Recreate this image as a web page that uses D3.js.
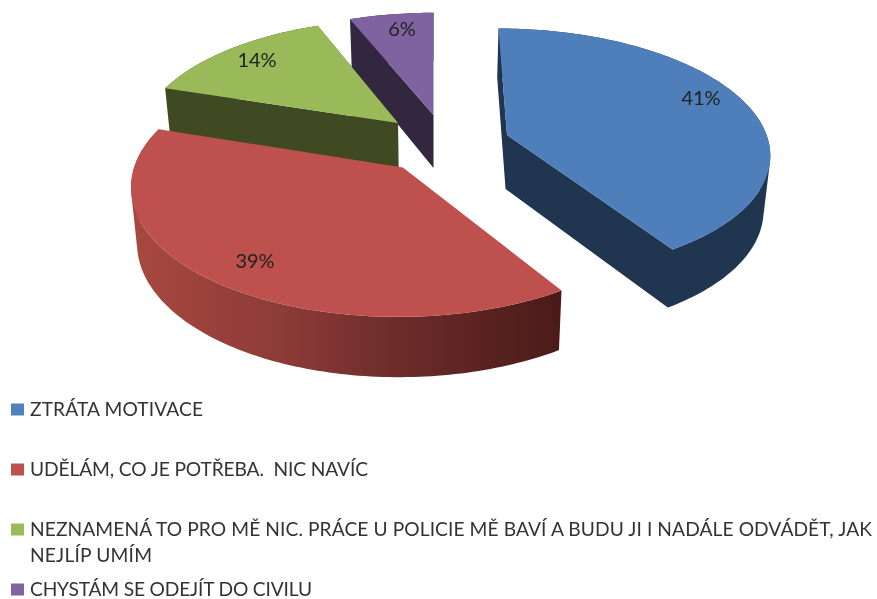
<!DOCTYPE html>
<html><head><meta charset="utf-8">
<script src="https://cdn.jsdelivr.net/npm/d3@7/dist/d3.min.js"></script>
<style>html,body{margin:0;padding:0;background:#fff}svg{display:block}
text{font-family:Lato,"Open Sans",sans-serif;filter:blur(0.35px)}</style></head>
<body><svg id="c" width="877" height="599"></svg>
<script>
const categories=["ZTRÁTA MOTIVACE","UDĚLÁM, CO JE POTŘEBA.  NIC NAVÍC","NEZNAMENÁ TO PRO MĚ NIC. PRÁCE U POLICIE MĚ BAVÍ A BUDU JI I NADÁLE ODVÁDĚT, JAK NEJLÍP UMÍM","CHYSTÁM SE ODEJÍT DO CIVILU"];
const legendLines=[["ZTRÁTA MOTIVACE"],["UDĚLÁM, CO JE POTŘEBA.  NIC NAVÍC"],["NEZNAMENÁ TO PRO MĚ NIC. PRÁCE U POLICIE MĚ BAVÍ A BUDU JI I NADÁLE ODVÁDĚT, JAK","NEJLÍP UMÍM"],["CHYSTÁM SE ODEJÍT DO CIVILU"]];
const legendWidths=[[173],[338],[842,122],[282]];
const values=[41,39,14,6];
const labels=["41%","39%","14%","6%"];
const topColors=["#4e7fba","#be504d","#9aba59","#7f63a1"];
const wallColors=["#1f3550","#4b1c19","#3f4a23","#33263f"];
const swatchColors=["#4f81bd","#c0504d","#9bbb59","#8064a2"];
const explodeX=[74.5,-30,-36.4,0];
const explodeV=[-0.1,0.16,-0.2,-0.27];
const labelAt=[[701,98],[255,261],[257,60],[402,29]];
const legendRowY=[410,470,530,590];

const VX=433.5,C=147.2,A=123.7,P=0.133,R=263;
const svg=d3.select("#c");
const defs=svg.append("defs");
const g=defs.append("linearGradient").attr("id","redWall").attr("gradientUnits","userSpaceOnUse")
 .attr("x1",135).attr("x2",560).attr("y1",0).attr("y2",0);
[[0,"#a8483f"],[0.35,"#8c3b38"],[0.62,"#6c2c2a"],[1,"#4a1b19"]].forEach(s=>g.append("stop").attr("offset",s[0]).attr("stop-color",s[1]));

const pie=d3.pie().sort(null)(values);
const line=d3.line();
function rim(i,a,f=1){
  const u=Math.sin(a)*f,v=-Math.cos(a)*f;
  const V=explodeV[i]+v,X=explodeX[i]+R*u,s=1/(1-P*V);
  return {x:VX+X*s,y:C+A*V*s,V};
}
const low=p=>({x:VX+(p.x-VX)*0.98,y:p.y+54.5+5*p.V});
const xy=p=>[p.x,p.y];
function arcPts(i,a0,a1){
  const n=Math.max(2,Math.ceil((a1-a0)/0.02)),o=[];
  for(let k=0;k<=n;k++)o.push(rim(i,a0+(a1-a0)*k/n));
  return o;
}
// wall strip between two rim points, wound consistently so overlaps never cancel
function quad(p,q){
  const a=[p,q,low(q),low(p)].map(xy);
  if(d3.polygonArea(a)<0)a.reverse();
  return line(a)+"Z";
}
const order=[3,2,0,1];
order.forEach(i=>{
  const d=pie[i],apex=rim(i,0,0),pts=arcPts(i,d.startAngle,d.endAngle);
  let wall=d3.pairs(pts).map(([p,q])=>quad(p,q)).join("");
  if(i!==1) wall+=quad(apex,pts[0])+quad(apex,pts[pts.length-1]);
  svg.append("path").attr("d",wall).attr("fill",i===1?"url(#redWall)":wallColors[i]);
  svg.append("path").attr("d",line([apex].concat(pts).map(xy))+"Z").attr("fill",topColors[i]);
});
svg.append("g").selectAll("text").data(labels).join("text")
 .attr("x",(d,i)=>labelAt[i][0]).attr("y",(d,i)=>labelAt[i][1]).attr("dy","0.36em")
 .attr("text-anchor","middle").attr("font-size",20).attr("fill","#222").text(d=>d);
const leg=svg.append("g");
categories.forEach((c,i)=>{
  leg.append("rect").attr("x",11).attr("y",legendRowY[i]-6.5).attr("width",13).attr("height",12).attr("fill",swatchColors[i]);
  legendLines[i].forEach((t,k)=>leg.append("text").attr("x",30).attr("y",legendRowY[i]+k*26).attr("dy","0.31em")
    .attr("font-size",19.2).attr("fill","#333").attr("textLength",legendWidths[i][k]).attr("lengthAdjust","spacing")
    .style("white-space","pre").text(t));
});
</script></body></html>
